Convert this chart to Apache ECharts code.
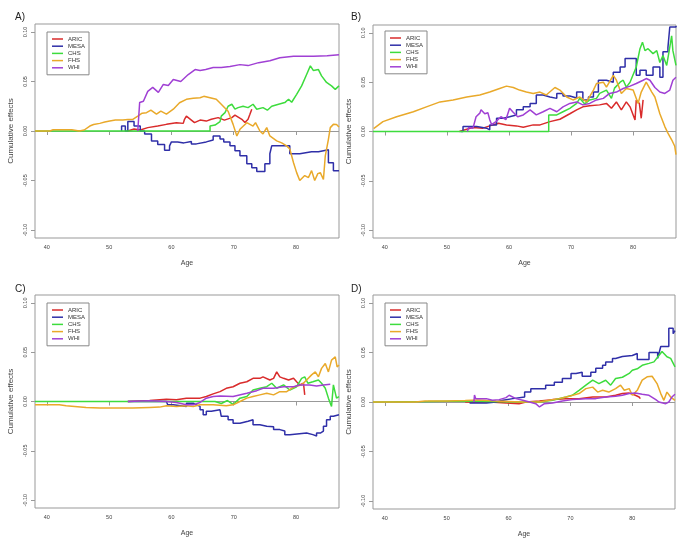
<!DOCTYPE html>
<html><head><meta charset="utf-8">
<script src="https://cdn.jsdelivr.net/npm/echarts@6/dist/echarts.min.js"></script>
<style>html,body{margin:0;padding:0;background:#fff}#c{width:685px;height:546px}</style>
</head><body><div id="c"></div>
<script>
const seriesNames = ['ARIC','MESA','CHS','FHS','WHI'];
const panelTitles = ['A)','B)','C)','D)'];
const xTicks = [40,50,60,70,80];
const yTicks = [-0.1,-0.05,0,0.05,0.1];

const A_ARIC = [[53,0],[54,0.002],[55,0.001],[56.2,0.0034],[57.8,0.005],[59.2,0.0067],[60.8,0.0084],[61.9,0.0077],[62.1,0.0118],[62.4,0.015],[63.7,0.0085],[64.6,0.011],[65.6,0.010],[66.4,0.0118],[67.5,0.0135],[68.5,0.011],[69.7,0.0135],[70.2,0.016],[71.3,0.0118],[71.8,0.0085],[72.3,0.0118],[72.6,0.0168],[72.9,0.022]];
const A_MESA = [[52,0],[52,0.005],[52.6,0],[53,0.0095],[54,0.005],[55,0],[55.7,-0.003],[56.8,-0.010],[57.8,-0.0135],[58.9,-0.0195],[59.7,-0.015],[60,-0.011],[61,-0.012],[62,-0.0105],[63.2,-0.013],[64,-0.011],[65.6,-0.009],[66.7,-0.005],[67.8,-0.008],[68.4,-0.011],[69.4,-0.015],[70.2,-0.020],[71,-0.025],[72.1,-0.033],[72.9,-0.037],[73.7,-0.041],[75,-0.033],[75.8,-0.023],[76.1,-0.015],[78.2,-0.015],[79,-0.023],[80.6,-0.021],[82.5,-0.021],[83.6,-0.019],[85.2,-0.032],[86,-0.040],[86.9,-0.040]];
const A_CHS = [[38.1,0],[66.2,0],[66.2,0.005],[67,0.006],[67.8,0.0095],[68,0.015],[68.6,0.0185],[69.1,0.025],[69.7,0.027],[70.2,0.022],[70.7,0.0236],[71.5,0.025],[72.3,0.0236],[73.1,0.027],[73.7,0.022],[74.7,0.0236],[75.4,0.021],[76.1,0.025],[77.2,0.027],[78.2,0.0287],[78.8,0.032],[79.3,0.029],[80.1,0.037],[80.9,0.0455],[81.7,0.057],[82.3,0.0657],[82.8,0.061],[83.6,0.062],[84.1,0.0556],[84.9,0.049],[85.7,0.0455],[86.3,0.042],[86.9,0.0455]];
const A_FHS = [[38.1,0],[40.5,0],[41,0.0012],[44,0.0012],[45.2,0],[46,0.001],[46.9,0.005],[47.5,0.0065],[48.5,0.0077],[49.3,0.009],[50.1,0.010],[51,0.011],[52.2,0.011],[53,0.0115],[53.8,0.0117],[54.6,0.015],[55.3,0.018],[56,0.0185],[56.7,0.021],[57.6,0.017],[58.3,0.020],[59.2,0.017],[60.3,0.022],[61.3,0.0285],[62.4,0.032],[63.5,0.033],[64.6,0.0335],[65.2,0.035],[65.5,0.037],[66.2,0.0335],[67.2,0.032],[68,0.027],[69.1,0.020],[69.9,0.0067],[70.5,-0.005],[71,0.0017],[72.1,0.0084],[73.1,0.005],[73.5,0.0084],[74.2,0],[74.7,-0.003],[75.3,0.0034],[75.8,-0.005],[76.9,-0.010],[77.7,-0.012],[78.5,-0.015],[79,-0.018],[79.6,-0.032],[80.1,-0.042],[80.6,-0.050],[81.4,-0.045],[82,-0.047],[82.5,-0.040],[83,-0.050],[83.5,-0.043],[83.9,-0.042],[84.4,-0.049],[84.7,-0.025],[85.2,-0.0084],[85.5,0.0034],[86,0.0067],[86.5,0.0065],[86.9,0.004]];
const A_WHI = [[54.6,0],[54.9,0.0287],[55.5,0.030],[56.2,0.040],[57,0.044],[57.9,0.039],[58.7,0.047],[59.5,0.046],[60.3,0.052],[61.5,0.050],[62.7,0.057],[63.8,0.062],[64.6,0.061],[65.5,0.062],[66.7,0.064],[68,0.064],[69.4,0.065],[71,0.067],[72.3,0.066],[74,0.069],[75.8,0.071],[77.4,0.074],[79.6,0.0755],[82.8,0.0755],[85,0.076],[86.9,0.077]];

const B_ARIC = [[52,0],[53.2,0.0023],[54.2,0.004],[55.8,0.0034],[56.9,0.0057],[58.3,0.0084],[59.6,0.0067],[61.2,0.0057],[62.3,0.0044],[63.9,0.0067],[65,0.0067],[66.6,0.010],[68.2,0.0124],[69.8,0.018],[70.9,0.022],[71.9,0.025],[73,0.026],[74.6,0.027],[75.7,0.0285],[76.5,0.0235],[77.3,0.030],[78.1,0.022],[78.9,0.030],[79.5,0.025],[80,0.0168],[80.3,0.0117],[80.5,0.032],[81,0.0285],[81.3,0.0134],[81.6,0.032]];
const B_MESA = [[52.2,0],[52.6,0.005],[54.8,0.0034],[56.4,0.0017],[56.9,0.0067],[58,0.0134],[59.1,0.015],[60.1,0.0168],[61.2,0.022],[62.3,0.025],[63.4,0.0285],[64.4,0.037],[65.5,0.035],[66.6,0.0336],[67.7,0.0386],[68.7,0.036],[69.8,0.034],[70.9,0.040],[71.9,0.032],[72.8,0.035],[73.6,0.040],[74.4,0.052],[75.7,0.050],[76.8,0.060],[77.9,0.0654],[78.7,0.074],[80.5,0.057],[81.1,0.062],[82.1,0.057],[83.2,0.0654],[84.3,0.055],[84.8,0.081],[85.6,0.085],[85.9,0.106],[86.9,0.107]];
const B_CHS = [[38.1,0],[66.4,0],[66.4,0.0168],[67.7,0.0168],[68.7,0.020],[69.8,0.0235],[70.9,0.0285],[71.4,0.0336],[72.2,0.028],[73,0.032],[74.1,0.0336],[74.6,0.0386],[75.7,0.042],[76.5,0.0336],[77,0.044],[77.9,0.050],[78.4,0.052],[78.9,0.045],[79.5,0.050],[80.5,0.0654],[81.1,0.084],[81.5,0.0906],[81.9,0.082],[82.4,0.084],[83.2,0.079],[83.8,0.082],[84.3,0.070],[84.8,0.077],[85.4,0.067],[85.9,0.0856],[86.2,0.097],[86.4,0.082],[86.9,0.067]];
const B_FHS = [[38.2,0.003],[39.7,0.010],[41.9,0.015],[44.6,0.020],[46.7,0.025],[48.9,0.030],[51,0.032],[53.2,0.035],[55.3,0.037],[56.9,0.040],[58.5,0.0436],[59.6,0.046],[60.7,0.0446],[61.7,0.042],[62.8,0.040],[63.9,0.0386],[65,0.040],[66,0.037],[67.4,0.0446],[68.2,0.042],[69.3,0.035],[70.3,0.032],[71.4,0.035],[72.5,0.030],[73.6,0.042],[74.1,0.0487],[75.2,0.050],[75.7,0.045],[76.8,0.057],[77.3,0.052],[78.1,0.0386],[78.9,0.0436],[80,0.042],[80.8,0.0285],[81.3,0.040],[82.1,0.050],[83,0.040],[83.5,0.035],[84.3,0.018],[85.1,0.005],[85.6,-0.0017],[86.2,-0.0084],[86.7,-0.015],[86.9,-0.0235]];
const B_WHI = [[53.3,0],[53.5,0.004],[54.2,0.0034],[54.7,0.015],[55.3,0.0186],[55.5,0.022],[56.1,0.018],[56.6,0.019],[56.9,0.012],[57.2,0.007],[57.9,0.010],[58.7,0.015],[59.5,0.012],[60.1,0.0236],[60.6,0.020],[61.4,0.015],[62.3,0.0168],[63.4,0.022],[64.4,0.0168],[65.5,0.020],[66.6,0.0235],[67.7,0.020],[68.7,0.025],[69.8,0.0285],[70.9,0.030],[71.9,0.027],[73,0.0285],[74.1,0.032],[75.2,0.0336],[76.2,0.0386],[77.3,0.040],[78.4,0.0436],[79.5,0.046],[80.5,0.0487],[81.6,0.052],[82.1,0.0537],[82.7,0.052],[83.5,0.0446],[84.3,0.040],[85.1,0.0386],[85.9,0.042],[86.4,0.052],[86.9,0.055]];

const C_ARIC = [[53,0],[56.5,0.001],[59.2,0.0023],[60.8,0.0017],[62.4,0.0034],[64.6,0.0034],[65.6,0.005],[66.7,0.0077],[67.8,0.010],[68.8,0.0134],[69.9,0.015],[71,0.0185],[72.1,0.020],[73.1,0.0235],[74.2,0.0235],[74.7,0.025],[75.8,0.0218],[76.4,0.0235],[76.9,0.030],[77.4,0.025],[78,0.0235],[78.8,0.0218],[79.6,0.0235],[80.1,0.020],[80.6,0.0168],[81.2,0.0185],[81.4,0.0067]];
const C_MESA = [[53,0],[59.2,0],[59.4,-0.0034],[60.3,-0.005],[62.4,-0.0017],[63.5,-0.0034],[64,-0.005],[64.6,-0.0084],[65.1,-0.0134],[65.6,-0.010],[66.4,-0.0084],[67.8,-0.010],[68,-0.015],[69.1,-0.0185],[69.9,-0.022],[71,-0.020],[72.3,-0.0185],[73.1,-0.0235],[74.2,-0.025],[75.3,-0.0255],[76.4,-0.0285],[77.4,-0.030],[78.2,-0.0336],[79,-0.032],[81.7,-0.0336],[82.7,-0.035],[83.3,-0.032],[83.9,-0.030],[84.4,-0.025],[84.9,-0.0185],[85.5,-0.015],[86,-0.0134],[86.9,-0.0134]];
const C_CHS = [[38.1,0],[67,0],[68,-0.002],[69,0.001],[69.9,-0.003],[71,0.0034],[72.1,0.005],[73.1,0.0117],[74.2,0.0134],[75.3,0.015],[76.1,0.0185],[76.9,0.0134],[78,0.0168],[79,0.0117],[80.1,0.015],[80.9,0.0235],[81.4,0.025],[81.9,0.0185],[82.7,0.020],[83.6,0.0218],[84.1,0.0185],[84.7,0.0134],[85.2,0.0034],[85.7,-0.005],[86,0.0168],[86.5,0.0034],[86.9,0.005]];
const C_FHS = [[38.1,-0.0034],[42,-0.0034],[43.1,-0.0044],[46.3,-0.006],[48.5,-0.0067],[53.8,-0.0067],[56.5,-0.006],[58.1,-0.0057],[59.2,-0.0044],[60.8,-0.005],[62.4,-0.0044],[63.5,-0.005],[64.6,-0.0034],[66.7,-0.0034],[68.8,-0.0044],[69.9,-0.0034],[71,0],[72.1,0.0034],[73.1,0.005],[74.2,0.0067],[75.3,0.0084],[76.4,0.0067],[77.4,0.010],[78.5,0.010],[79.3,0.0134],[80.1,0.0158],[80.9,0.0168],[81.7,0.0218],[82.5,0.027],[83.1,0.030],[83.6,0.025],[84.1,0.0336],[84.7,0.0386],[85.2,0.030],[85.7,0.042],[86.3,0.0453],[86.6,0.035],[86.9,0.037]];
const C_WHI = [[53,0],[56.5,0.0007],[59.2,0],[60.8,-0.001],[62.4,-0.0034],[63.5,-0.0034],[64.6,-0.001],[65.6,0.0034],[66.7,0.005],[67.8,0.0057],[69.9,0.005],[72.1,0.0084],[73.7,0.011],[74.7,0.0134],[76.4,0.0134],[78,0.015],[79.6,0.015],[80.6,0.0168],[82.2,0.0168],[83.3,0.0158],[84.4,0.0168],[85.5,0.0174]];

const D_ARIC = [[53,0],[57,0],[59.6,-0.001],[61.7,-0.0017],[62.8,0],[65,0.001],[67.1,0.0024],[69.3,0.0034],[71.4,0.0034],[73.6,0.005],[75.7,0.005],[77.3,0.0068],[78.4,0.0085],[79.5,0.009],[80.5,0.0068],[81.1,0.005],[81.3,0.0034]];
const D_MESA = [[53.7,-0.001],[56.4,0],[58,0.0017],[59.1,0.0034],[60.7,0.005],[62.6,0.010],[63.6,0.0135],[66,0.017],[67.4,0.020],[68.7,0.0237],[70.1,0.0287],[70.9,0.030],[71.9,0.026],[73.3,0.030],[74.1,0.034],[75.2,0.037],[75.7,0.0405],[76.8,0.044],[77.3,0.046],[78.4,0.047],[80,0.049],[80.8,0.043],[82.7,0.050],[84.1,0.044],[84.3,0.049],[84.6,0.056],[85.9,0.0745],[86.6,0.069],[86.9,0.072]];
const D_CHS = [[38.1,0],[47,0.0005],[53,0.001],[57,0.0005],[62,0],[65,0],[67.1,0.0017],[69.3,0.005],[70.3,0.0068],[71.4,0.0118],[72.5,0.017],[73.6,0.022],[74.6,0.0186],[75.7,0.022],[76.5,0.017],[77.3,0.0237],[78.4,0.025],[79.5,0.0288],[80,0.032],[80.8,0.0335],[81.6,0.037],[82.7,0.039],[83.5,0.0405],[84.3,0.047],[84.8,0.051],[85.6,0.0457],[86.2,0.044],[86.9,0.0355]];
const D_FHS = [[38.1,0],[45,0],[46.5,0.001],[50,0.001],[53,0.0015],[55,0.002],[58,0.001],[62,0],[65,0],[66.6,0.0017],[68.2,0.0034],[69.8,0.0057],[71.4,0.0085],[72.5,0.0135],[73.6,0.015],[74.4,0.010],[75.2,0.0118],[76.2,0.010],[77.3,0.0135],[78.1,0.017],[78.7,0.0118],[79.5,0.0135],[80,0.0068],[80.8,0.0118],[81.6,0.022],[82.4,0.0254],[83.2,0.026],[84,0.0186],[84.6,0.0085],[85.1,0.0017],[85.6,0.010],[86.2,0.005],[86.9,0.0017]];
const D_WHI = [[54.4,0],[54.5,0.007],[54.7,0.0034],[55.3,0.0034],[56.4,0.0034],[57.4,0.0017],[58.5,0.0024],[59.6,0.0044],[60.1,0.0068],[61.2,0.0034],[62.3,0.0017],[63.4,0],[64.4,-0.0017],[65,-0.005],[65.8,-0.0017],[67.1,-0.001],[68.7,0.001],[70.3,0.0024],[72.5,0.0034],[74.1,0.0034],[75.7,0.005],[77.3,0.0057],[78.4,0.0068],[79.5,0.0085],[80.5,0.009],[81.6,0.0078],[82.7,0.0068],[83.8,0.0024],[84.3,0],[85.4,-0.0017],[85.9,0],[86.4,0.005],[86.9,0.0078]];

const panelData = [
  [A_ARIC, A_MESA, A_CHS, A_FHS, A_WHI],
  [B_ARIC, B_MESA, B_CHS, B_FHS, B_WHI],
  [C_ARIC, C_MESA, C_CHS, C_FHS, C_WHI],
  [D_ARIC, D_MESA, D_CHS, D_FHS, D_WHI]
];
const colors = ['#d92b2b','#2f2fa8','#3ddc3d','#e9a92a','#a040d4'];

const grids = [
  {left:35, top:24, width:304, height:214},
  {left:373, top:25, width:303, height:213},
  {left:35, top:295, width:304, height:213},
  {left:373, top:295, width:302, height:214}
];
const legendPos = [{left:47,top:32},{left:385,top:31},{left:47,top:303},{left:385,top:303}];
const titlePos = [{left:10,top:7},{left:346,top:7},{left:10,top:279},{left:346,top:279}];

const option = {
  animation:false,
  backgroundColor:'#fff',
  color: colors,
  textStyle:{fontFamily:'Liberation Sans, Arial, sans-serif'},
  title: panelTitles.map((t,i)=>({text:t, left:titlePos[i].left, top:titlePos[i].top, textStyle:{fontSize:10, fontWeight:'normal', color:'#222', fontFamily:'Liberation Sans'}})),
  grid: grids.map(g=>Object.assign({show:true, borderColor:'#999', borderWidth:1, containLabel:false}, g)),
  legend: legendPos.map(p=>({
    left:p.left, top:p.top, orient:'vertical', data:seriesNames,
    icon:'rect', itemWidth:11, itemHeight:1.5, itemGap:0.2,
    padding:[3.5,4,3.5,5], borderColor:'#888', borderWidth:1, backgroundColor:'#fff',
    textStyle:{fontSize:6, lineHeight:7, color:'#333'},
    selectedMode:false
  })),
  xAxis: grids.map((g,i)=>({
    gridIndex:i, type:'value', min:38.1, max:86.9,
    name:'Age', nameLocation:'middle', nameGap:22,
    nameTextStyle:{fontSize:7, color:'#444'},
    axisLine:{show:false}, splitLine:{show:false},
    axisTick:{show:true, length:4, lineStyle:{color:'#999'}, customValues:xTicks},
    axisLabel:{fontSize:5.5, color:'#444', margin:6, customValues:xTicks}
  })),
  yAxis: grids.map((g,i)=>({
    gridIndex:i, type:'value', min:-0.108, max:0.108,
    name:'Cumulative effects', nameLocation:'middle', nameGap:20, nameRotate:90,
    nameTextStyle:{fontSize:8, color:'#444'},
    axisLine:{show:false}, splitLine:{show:false},
    axisTick:{show:true, length:4, lineStyle:{color:'#999'}, customValues:yTicks},
    axisLabel:{fontSize:5.5, color:'#444', margin:7, rotate:90, customValues:yTicks,
      formatter:v=>Number(v).toFixed(2)}
  })),
  series: []
};

panelData.forEach((arrs,pi)=>{
  arrs.forEach((d,si)=>{
    const s = {
      name:seriesNames[si], type:'line', xAxisIndex:pi, yAxisIndex:pi,
      data:d, showSymbol:false, symbol:'none', clip:true,
      lineStyle:{width:1.5, color:colors[si]}, itemStyle:{color:colors[si]},
      z: 3+si
    };
    if (si===1) s.step = 'end';
    if (si===0) s.markLine = {silent:true, symbol:'none', label:{show:false},
      lineStyle:{color:'#999', type:'solid', width:1}, data:[{yAxis:0}], z:1};
    option.series.push(s);
  });
});

const chart = echarts.init(document.getElementById('c'), null, {renderer:'canvas'});
chart.setOption(option);
</script></body></html>
